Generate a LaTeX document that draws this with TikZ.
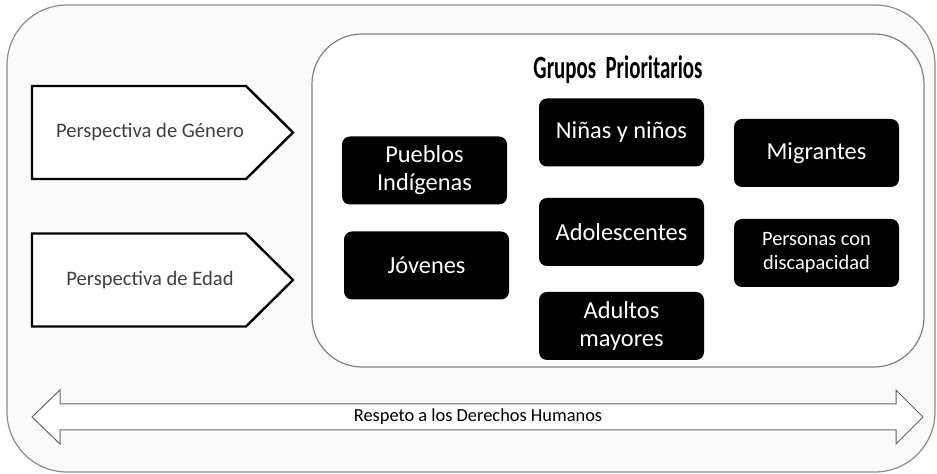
\documentclass[tikz,border=0pt]{standalone}
\usepackage{fontspec}
\setmainfont{Carlito}
\begin{document}
\begin{tikzpicture}[x=0.5pt,y=-0.5pt,
grupo/.style={fill=black,text=white,rounded corners=4pt,minimum width=82.5pt,minimum height=34pt,align=center,inner sep=1pt,font=\fontsize{12.2}{14}\selectfont},
persp/.pic={\draw[line width=1.2pt,fill=white](0,-46.5)--(214,-46.5)--(261,0)--(214,46.5)--(0,46.5)--cycle;},
]
\useasboundingbox(0,0)rectangle(937,474);
\draw[black!45,line width=0.6pt,fill=black!2,rounded corners=30pt](7,5)rectangle(935,472);
\draw[black!50,line width=0.6pt,fill=white,rounded corners=25pt](312,34)rectangle(924,367);
\path(32,132.5)pic{persp};
\path(32,280)pic{persp};
\node[text=black!75,font=\fontsize{10.3}{12}\selectfont](genero)at(150,132.5){Perspectiva de Género};
\node[text=black!75,font=\fontsize{10.3}{12}\selectfont](edad)at(150,280){Perspectiva de Edad};
\node[font=\fontsize{14.5}{16}\bfseries](titulo)at(618,70){\scalebox{0.72}[1.12]{Grupos\ \ Prioritarios}};
\node[grupo](pueblos)at(424.5,170.5){Pueblos\\Indígenas};
\node[grupo](jovenes)at(426.5,265.5){Jóvenes};
\node[grupo](ninos)at(621.5,132.5){Niñas y niños};
\node[grupo](adolescentes)at(621.5,232){Adolescentes};
\node[grupo](adultos)at(621.5,326){Adultos\\mayores};
\node[grupo](migrantes)at(816.5,153){Migrantes};
\node[grupo,font=\fontsize{10.2}{12}\selectfont](discapacidad)at(816.5,253){Personas con\\discapacidad};
\draw[black!60,line width=0.5pt,fill=white](32,417)--(60,390)--(60,404)--(896,404)--(896,390)--(923,417)--(896,444)--(896,430)--(60,430)--(60,444)--cycle;
\node[font=\fontsize{9.2}{11}\selectfont](derechos)at(478,417){Respeto a los Derechos Humanos};
\end{tikzpicture}
\end{document}
